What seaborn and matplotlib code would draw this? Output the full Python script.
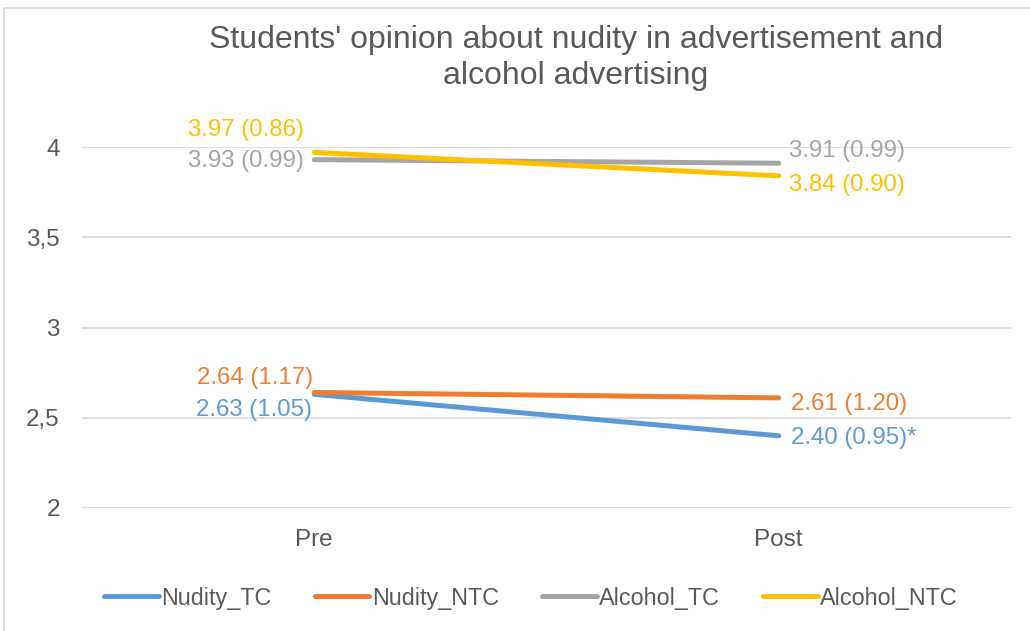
import numpy as np
import matplotlib.pyplot as plt
import pandas as pd
import seaborn as sb

# dane
times = ['Pre', 'Post']
series = ['Nudity_TC', 'Nudity_NTC', 'Alcohol_TC', 'Alcohol_NTC']
nudity_tc = [2.63, 2.40]
nudity_ntc = [2.64, 2.61]
alcohol_tc = [3.93, 3.91]
alcohol_ntc = [3.97, 3.84]
labels = {
    'Nudity_TC': ['2.63 (1.05)', '2.40 (0.95)*'],
    'Nudity_NTC': ['2.64 (1.17)', '2.61 (1.20)'],
    'Alcohol_TC': ['3.93 (0.99)', '3.91 (0.99)'],
    'Alcohol_NTC': ['3.97 (0.86)', '3.84 (0.90)'],
}
colors = ['#5B9BD5', '#ED7D31', '#A5A5A5', '#FFC000']

df = pd.DataFrame({
    'time': times * 4,
    'value': nudity_tc + nudity_ntc + alcohol_tc + alcohol_ntc,
    'series': np.repeat(series, 2),
})

sb.set_style('white')
plt.rcParams['font.family'] = ['Liberation Sans', 'DejaVu Sans']

fig = plt.figure(figsize=(10.3, 6.31), dpi=100)
ax = fig.add_axes([82 / 1030, 1 - 508 / 631, (1011 - 82) / 1030, (508 - 147) / 631])

sb.lineplot(data=df, x='time', y='value', hue='series', palette=colors,
            linewidth=3.6, ax=ax, legend=True, sort=False,
            solid_capstyle='round')

ax.set_xlim(-0.5, 1.5)
ax.set_ylim(2, 4)
ax.set_yticks([2, 2.5, 3, 3.5, 4])
ax.set_yticklabels(['2', '2,5', '3', '3,5', '4'])
ax.grid(axis='y', color='#D9D9D9', linewidth=1.2)
ax.set_axisbelow(True)
for s in ax.spines.values():
    s.set_visible(False)
ax.tick_params(axis='both', length=0, labelsize=17.5, colors='#595959')
ax.tick_params(axis='x', pad=15)
ax.tick_params(axis='y', pad=16)
ax.set_xlabel('')
ax.set_ylabel('')

# etykiety danych: przesuniecia w pikselach (dx, dy)
offsets = {
    'Nudity_TC': [(-2, -16), (12, -2)],
    'Nudity_NTC': [(-1, 14), (12, -6)],
    'Alcohol_TC': [(-10, -1), (10, 12)],
    'Alcohol_NTC': [(-10, 22), (10, -9)],
}
vals = {'Nudity_TC': nudity_tc, 'Nudity_NTC': nudity_ntc,
        'Alcohol_TC': alcohol_tc, 'Alcohol_NTC': alcohol_ntc}
for name, c in zip(series, colors):
    for i in range(2):
        dx, dy = offsets[name][i]
        ax.annotate(labels[name][i], (i, vals[name][i]),
                    xytext=(dx * 0.72, dy * 0.72), textcoords='offset points',
                    ha='right' if i == 0 else 'left', va='center',
                    color=c, fontsize=17.3)

ax.get_legend().remove()
handles, lbls = ax.get_legend_handles_labels()
for h in handles:
    h.set_solid_capstyle('round')
fig.legend(handles, lbls, loc='center', bbox_to_anchor=(531 / 1030, 1 - 598 / 631),
           ncol=4, frameon=False, fontsize=16.8, handlelength=2.35,
           handletextpad=0.1, columnspacing=1.85, labelcolor='#595959')

fig.text(576 / 1030, 1 - 58 / 631,
         "Students' opinion about nudity in advertisement and\nalcohol advertising",
         ha='center', va='center', fontsize=23, color='#595959', linespacing=1.25)

# ramka wykresu
fig.patches.append(plt.Rectangle((4 / 1030, -0.1), 1.1, 1 - 8 / 631 + 0.1,
                                 transform=fig.transFigure, fill=False,
                                 edgecolor='#D9D9D9', linewidth=1.2))

fig.savefig('out.png', dpi=100)
